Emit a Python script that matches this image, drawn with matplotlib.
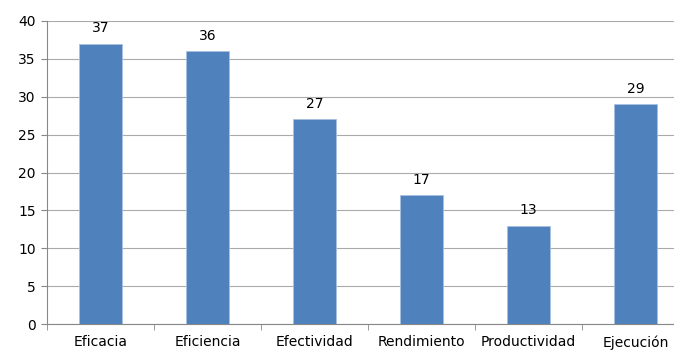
import matplotlib.pyplot as plt
import numpy as np

categorias = ['Eficacia', 'Eficiencia', 'Efectividad', 'Rendimiento', 'Productividad', 'Ejecución']
valores = [37, 36, 27, 17, 13, 29]

fig = plt.figure(figsize=(6.74, 3.51), dpi=100)
ax = fig.add_axes([47 / 674, 27 / 351, 642 / 674, 303 / 351])

x = np.arange(len(categorias))
ax.bar(x, valores, width=0.4, color='#4F81BD', edgecolor='#A9C1E0', linewidth=0.6, zorder=3)
for xi, v in zip(x, valores):
    ax.annotate(str(v), (xi, v), xytext=(0, 6), textcoords='offset points',
                ha='center', va='bottom', fontsize=10)

ax.set_xlim(-0.5, len(categorias) - 0.5)
ax.set_ylim(0, 40)
ax.set_yticks(range(0, 41, 5))
ax.yaxis.grid(True, color='#AAAAAA', linewidth=0.8, zorder=0)

ax.set_xticks(x)
ax.set_xticklabels(categorias, fontsize=10)
ax.set_xticks(np.arange(-0.5, len(categorias)), minor=True)
ax.tick_params(axis='x', which='major', length=0, pad=8)
ax.tick_params(axis='x', which='minor', length=4, color='#888888', direction='out')
ax.tick_params(axis='y', labelsize=10, length=4, color='#888888', pad=4)

for s in ['top', 'right']:
    ax.spines[s].set_visible(False)
for s in ['left', 'bottom']:
    ax.spines[s].set_color('#888888')

fig.savefig('out.png', dpi=100)
